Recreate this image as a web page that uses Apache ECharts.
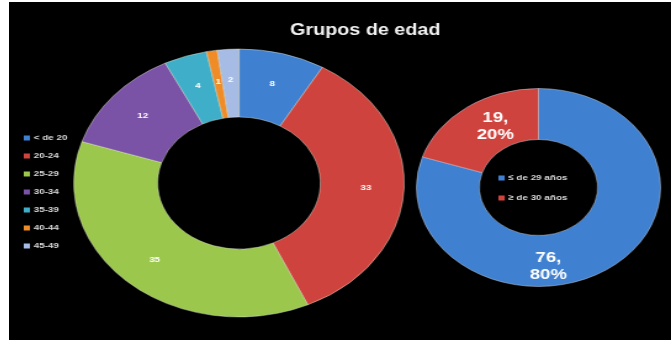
<!DOCTYPE html>
<html>
<head>
<meta charset="utf-8">
<script src="https://cdn.jsdelivr.net/npm/echarts@6/dist/echarts.min.js"></script>
<style>
  html, body { margin: 0; padding: 0; background: #ffffff; width: 671px; height: 340px; overflow: hidden; }
  #frame { position: absolute; left: 9px; top: 2px; width: 662px; height: 338px; background: #000000; overflow: hidden; }
  /* the chart is laid out at 537px and stretched horizontally to fill the frame */
  #chart { position: absolute; left: 0; top: 0; width: 537px; height: 338px; transform-origin: 0 0; transform: scaleX(1.2328); }
</style>
</head>
<body>
<div id="frame"><div id="chart"></div></div>
<script>
// Age groups (left donut)
const ageGroups = ['< de 20', '20-24', '25-29', '30-34', '35-39', '40-44', '45-49'];
const ageCounts = [8, 33, 35, 12, 4, 1, 2];
const ageColors = ['#3F80D0', '#CF433E', '#9BC74C', '#7A52A6', '#3FAFC9', '#F08C28', '#A7BCE4'];

// Summary split (right donut)
const splitGroups = ['≤ de 29 años', '≥ de 30 años'];
const splitCounts = [76, 19];
const splitColors = ['#3F80D0', '#CF433E'];

const chart = echarts.init(document.getElementById('chart'), null, { renderer: 'canvas' });

const font = 'Liberation Sans, Arial, sans-serif';
const legendText = { color: '#d8d8d8', fontSize: 8, fontWeight: 'bold', fontFamily: font, lineHeight: 10, padding: [0, 0, 0, -2] };

chart.setOption({
  backgroundColor: '#000000',
  animation: false,
  title: {
    text: 'Grupos de edad',
    left: 284, top: 16, textAlign: 'center',
    textStyle: { color: '#f2f2f2', fontSize: 16, fontWeight: 'bold', fontFamily: font }
  },
  legend: [
    {
      data: ageGroups,
      orient: 'vertical',
      left: 7, top: 126,
      itemWidth: 5, itemHeight: 5, itemGap: 8,
      icon: 'rect',
      itemStyle: { borderWidth: 0 },
      textStyle: legendText
    },
    {
      data: splitGroups,
      orient: 'vertical',
      left: 392, top: 166,
      itemWidth: 5, itemHeight: 5, itemGap: 10,
      icon: 'rect',
      itemStyle: { borderWidth: 0 },
      textStyle: legendText
    }
  ],
  series: [
    {
      type: 'pie',
      center: [186.6, 181],
      radius: [66, 134],
      startAngle: 90,
      clockwise: true,
      label: {
        show: true, position: 'inside', formatter: '{c}',
        color: '#ffffff', fontSize: 8, fontWeight: 'bold', fontFamily: font
      },
      labelLine: { show: false },
      itemStyle: { borderColor: 'rgba(235,240,220,0.55)', borderWidth: 0.8 },
      emphasis: { disabled: true },
      data: ageGroups.map((n, i) => ({ name: n, value: ageCounts[i], itemStyle: { color: ageColors[i] } }))
    },
    {
      type: 'pie',
      center: [429.5, 185.5],
      radius: [48, 99],
      startAngle: 90,
      clockwise: true,
      label: {
        show: true, position: 'inside',
        formatter: p => p.value + ',\n' + Math.round(p.percent) + '%',
        color: '#ffffff', fontSize: 15, fontWeight: 'bold', fontFamily: font, lineHeight: 17
      },
      labelLine: { show: false },
      itemStyle: { borderColor: 'rgba(220,230,245,0.55)', borderWidth: 0.8 },
      emphasis: { disabled: true },
      data: splitGroups.map((n, i) => ({
        name: n, value: splitCounts[i],
        itemStyle: { color: splitColors[i] },
        // nudge the two big labels toward the lower and upper-left parts of the ring
        label: { offset: i === 0 ? [-37, 17] : [10, 1] }
      }))
    }
  ]
});
</script>
</body>
</html>
